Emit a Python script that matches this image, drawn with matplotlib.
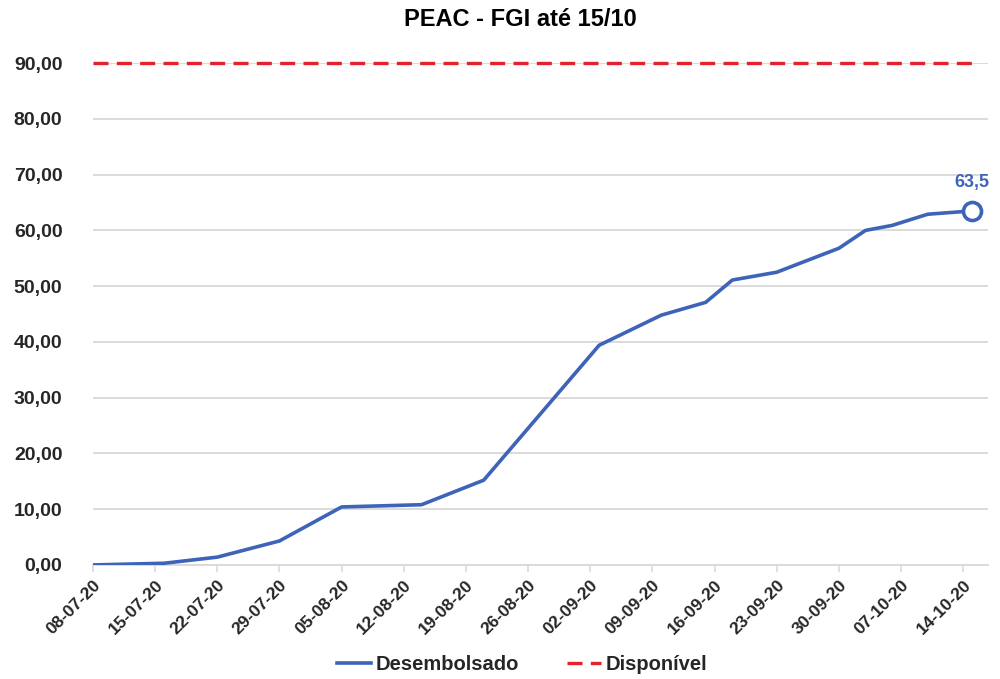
import matplotlib
matplotlib.use("Agg")
import matplotlib.pyplot as plt
import matplotlib.dates as mdates
from matplotlib.ticker import FuncFormatter
import datetime as dt

plt.rcParams['font.family'] = ['Liberation Sans', 'DejaVu Sans']

# ---- data ----
desemb_dates = ["2020-07-08", "2020-07-16", "2020-07-22", "2020-07-29", "2020-08-05",
                "2020-08-14", "2020-08-21", "2020-09-03", "2020-09-10", "2020-09-15",
                "2020-09-18", "2020-09-23", "2020-09-30", "2020-10-03", "2020-10-06",
                "2020-10-10", "2020-10-15"]
desemb_values = [0.0, 0.3, 1.4, 4.3, 10.4, 10.8, 15.2, 39.4, 44.8, 47.1,
                 51.1, 52.5, 56.8, 60.0, 60.9, 62.9, 63.5]
disp_dates = ["2020-07-08", "2020-10-15"]
disp_values = [90.0, 90.0]
tick_labels = ["08-07-20", "15-07-20", "22-07-20", "29-07-20", "05-08-20", "12-08-20",
               "19-08-20", "26-08-20", "02-09-20", "09-09-20", "16-09-20", "23-09-20",
               "30-09-20", "07-10-20", "14-10-20"]
last_label = "63,5"
title = "PEAC - FGI até 15/10"

def to_date(s):
    return dt.datetime.strptime(s, "%Y-%m-%d")

def tick_date(s):
    return dt.datetime.strptime(s, "%d-%m-%y")

d_x = [to_date(s) for s in desemb_dates]
r_x = [to_date(s) for s in disp_dates]
t_x = [tick_date(s) for s in tick_labels]

blue = "#3E64B8"
red = "#E2232B"
grid = "#DADADA"
txt = "#262626"

fig = plt.figure(figsize=(10, 6.79), dpi=100)
ax = fig.add_axes([0.093, 0.168, 0.895, 0.739])

ax.plot(d_x, desemb_values, color=blue, lw=2.6, solid_joinstyle='round',
        label="Desembolsado", zorder=3)
ax.plot(r_x, disp_values, color=red, lw=2.4, dashes=(4.5, 2.5),
        label="Disponível", zorder=3, clip_on=False)
ax.plot([d_x[-1]], [desemb_values[-1]], marker='o', ms=13, mfc='white', mec=blue,
        mew=2.6, zorder=4, clip_on=False)
ax.annotate(last_label, (d_x[-1], desemb_values[-1]), xytext=(0, 14),
            textcoords='offset points', ha='center', va='bottom',
            color=blue, fontsize=13, fontweight='bold')

ax.set_ylim(0, 90)
ax.set_xlim(to_date("2020-07-08"), dt.datetime(2020, 10, 16, 19, 0))
ax.set_yticks(range(0, 91, 10))
ax.yaxis.set_major_formatter(FuncFormatter(lambda v, p: f"{v:.2f}".replace(".", ",")))
ax.set_xticks(t_x)
ax.set_xticklabels(tick_labels, rotation=45, ha='right', rotation_mode='anchor',
                   fontsize=12.5, fontweight='bold', color=txt)
for lab in ax.get_yticklabels():
    lab.set_fontsize(14)
    lab.set_fontweight('bold')
    lab.set_color(txt)

ax.grid(axis='y', color=grid, lw=1.4)
ax.set_axisbelow(True)
for s in ['top', 'right', 'left']:
    ax.spines[s].set_visible(False)
ax.spines['bottom'].set_color(grid)
ax.spines['bottom'].set_linewidth(1.4)
ax.tick_params(axis='y', length=0, pad=22)
ax.tick_params(axis='x', length=5, color=grid, width=1.2, pad=4)

fig.text(0.52, 0.972, title, ha='center', va='center', fontsize=17,
         fontweight='bold', color='black')

leg = fig.legend(loc='center', bbox_to_anchor=(0.522, 0.021), ncol=2, frameon=False,
                 prop={'size': 14.5, 'weight': 'bold'}, handlelength=1.7,
                 handletextpad=0.2, columnspacing=2.4)
for t in leg.get_texts():
    t.set_color(txt)

fig.savefig("out.png", dpi=100)
